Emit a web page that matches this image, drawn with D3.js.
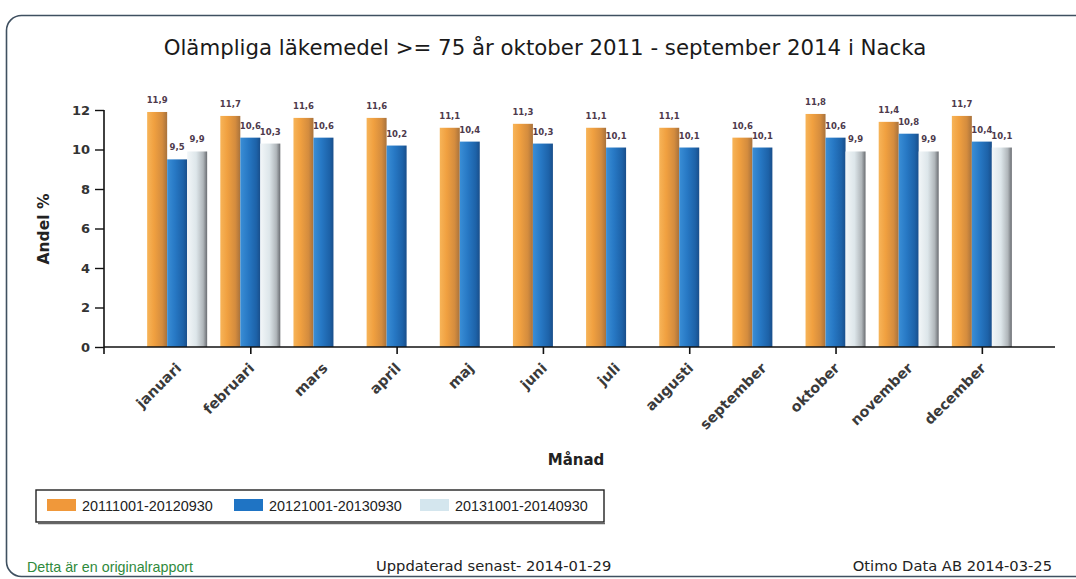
<!DOCTYPE html>
<html>
<head>
<meta charset="utf-8">
<script src="https://cdn.jsdelivr.net/npm/d3@7"></script>
<style>
  html, body { margin: 0; padding: 0; background: #ffffff; }
  svg { display: block; }
</style>
</head>
<body>
<svg id="chart" width="1076" height="579"></svg>
<script>
const months = ["januari","februari","mars","april","maj","juni","juli","augusti","september","oktober","november","december"];
const seriesNames = ["20111001-20120930","20121001-20130930","20131001-20140930"];
const values2012 = [11.9, 11.7, 11.6, 11.6, 11.1, 11.3, 11.1, 11.1, 10.6, 11.8, 11.4, 11.7];
const values2013 = [9.5, 10.6, 10.6, 10.2, 10.4, 10.3, 10.1, 10.1, 10.1, 10.6, 10.8, 10.4];
const values2014 = [9.9, 10.3, null, null, null, null, null, null, null, 9.9, 9.9, 10.1];
const yTicks = [0, 2, 4, 6, 8, 10, 12];
const xTickMonths = ["februari","april","juni","augusti","oktober","december"];

const seriesValues = [values2012, values2013, values2014];
const svg = d3.select("#chart");

// frame
svg.append("rect")
  .attr("x", 6.5).attr("y", 15.5).attr("width", 1100).attr("height", 561)
  .attr("rx", 15).attr("ry", 15)
  .attr("fill", "none").attr("stroke", "#3f5060").attr("stroke-width", 1.6);

// gradients
const defs = svg.append("defs");
const gradStops = [
  [["0%","#f7b458"],["35%","#f0a040"],["75%","#d48c3e"],["100%","#a8723c"]],
  [["0%","#3a8ed6"],["40%","#2778c4"],["80%","#1d62a8"],["100%","#194e8a"]],
  [["0%","#f2f6f8"],["45%","#dde6ea"],["80%","#b0b6ba"],["100%","#6a6d72"]]
];
gradStops.forEach((stops, i) => {
  const g = defs.append("linearGradient").attr("id", "g" + i)
    .attr("x1", "0%").attr("x2", "100%").attr("y1", "0%").attr("y2", "0%");
  stops.forEach(s => g.append("stop").attr("offset", s[0]).attr("stop-color", s[1]));
});
const legendColors = ["#f0983a", "#1f74c4", "#d4e6ee"];

const x = d3.scalePoint().domain(months).range([104, 1055]).padding(1);
const xs = d3.scaleBand().domain(seriesNames).range([-30, 30]);
const y = d3.scaleLinear().domain([0, 12]).range([347, 110]);

// title
svg.append("text")
  .attr("x", 545).attr("y", 55)
  .attr("text-anchor", "middle")
  .attr("font-family", "DejaVu Sans, Verdana, sans-serif")
  .attr("font-size", 21.3)
  .attr("fill", "#1a1a1a")
  .text("Olämpliga läkemedel >= 75 år oktober 2011 - september 2014 i Nacka");

// bars
const groups = svg.append("g").selectAll("g")
  .data(months).join("g")
  .attr("transform", d => `translate(${x(d)},0)`);

groups.each(function(m, mi) {
  const g = d3.select(this);
  seriesNames.forEach((s, si) => {
    const v = seriesValues[si][mi];
    if (v === null) return;
    g.append("rect")
      .attr("x", xs(s)).attr("width", xs.bandwidth())
      .attr("y", y(v)).attr("height", y(0) - y(v))
      .attr("fill", `url(#g${si})`);
    g.append("text")
      .attr("x", xs(s) + xs.bandwidth() / 2)
      .attr("y", y(v) - 9)
      .attr("text-anchor", "middle")
      .attr("font-family", "DejaVu Sans, Verdana, sans-serif")
      .attr("font-weight", "bold")
      .attr("font-size", 8.5)
      .attr("fill", "#4e3a4c")
      .text(String(v.toFixed(1)).replace(".", ","));
  });
});

// y axis
const yAxis = d3.axisLeft(y).tickValues(yTicks).tickSize(9).tickPadding(5).tickFormat(d3.format("d"));
const yg = svg.append("g").attr("transform", "translate(104,0)").call(yAxis);
yg.select(".domain").attr("d", `M0,${y(12)}V${y(0) + 7}`).attr("stroke", "#111").attr("stroke-width", 1.6);
yg.selectAll(".tick line").attr("stroke", "#111").attr("stroke-width", 1.4);
yg.selectAll(".tick text")
  .attr("font-family", "DejaVu Sans, Verdana, sans-serif")
  .attr("font-size", 13).attr("font-weight", "bold").attr("fill", "#333");

// x axis
const xAxis = d3.axisBottom(x).tickValues(xTickMonths).tickSize(7).tickFormat("");
const xg = svg.append("g").attr("transform", `translate(0,${y(0)})`).call(xAxis);
xg.select(".domain").attr("d", "M104,0H1055").attr("stroke", "#111").attr("stroke-width", 1.6);
xg.selectAll(".tick line").attr("stroke", "#111").attr("stroke-width", 1.6);

// x labels
svg.append("g").selectAll("text")
  .data(months).join("text")
  .attr("transform", d => `translate(${x(d) + 5},${y(0) + 22}) rotate(-45)`)
  .attr("text-anchor", "end")
  .attr("font-family", "DejaVu Sans, Verdana, sans-serif")
  .attr("font-size", 14.3).attr("font-weight", "bold")
  .attr("fill", "#3a3a3a")
  .text(d => d);

// axis titles
svg.append("text")
  .attr("transform", "translate(49,229) rotate(-90)")
  .attr("text-anchor", "middle")
  .attr("font-family", "DejaVu Sans, Verdana, sans-serif")
  .attr("font-size", 15.5).attr("font-weight", "bold").attr("fill", "#222")
  .text("Andel %");
svg.append("text")
  .attr("x", 576).attr("y", 465)
  .attr("text-anchor", "middle")
  .attr("font-family", "DejaVu Sans, Verdana, sans-serif")
  .attr("font-size", 15).attr("font-weight", "bold").attr("fill", "#222")
  .text("Månad");

// legend
const lg = svg.append("g");
lg.append("rect").attr("x", 36).attr("y", 490).attr("width", 568).attr("height", 32)
  .attr("fill", "#fff").attr("stroke", "#222").attr("stroke-width", 1.4);
lg.append("line").attr("x1", 38).attr("x2", 605).attr("y1", 523.5).attr("y2", 523.5)
  .attr("stroke", "#666").attr("stroke-width", 1.5);
const legendX = [47, 234, 420];
seriesNames.forEach((s, i) => {
  lg.append("rect").attr("x", legendX[i]).attr("y", 499).attr("width", 29).attr("height", 12)
    .attr("fill", legendColors[i]);
  lg.append("text").attr("x", legendX[i] + 35).attr("y", 510.5)
    .attr("font-family", "Liberation Sans, Arial, sans-serif")
    .attr("font-size", 14.4).attr("fill", "#222")
    .text(s);
});

// footer
svg.append("text").attr("x", 27).attr("y", 572)
  .attr("font-family", "Liberation Sans, Arial, sans-serif")
  .attr("font-size", 14.3).attr("fill", "#2f8a3c")
  .text("Detta är en originalrapport");
svg.append("text").attr("x", 376).attr("y", 571)
  .attr("font-family", "DejaVu Sans, Verdana, sans-serif")
  .attr("font-size", 14.7).attr("fill", "#222")
  .text("Uppdaterad senast- 2014-01-29");
svg.append("text").attr("x", 1052).attr("y", 571)
  .attr("text-anchor", "end")
  .attr("font-family", "DejaVu Sans, Verdana, sans-serif")
  .attr("font-size", 14.7).attr("fill", "#222")
  .text("Otimo Data AB 2014-03-25");
</script>
</body>
</html>
